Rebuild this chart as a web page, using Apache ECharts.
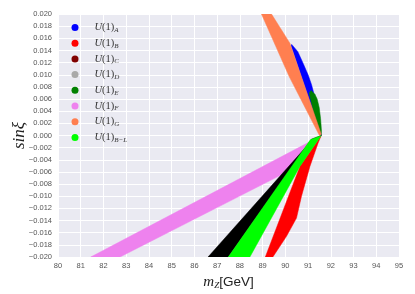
<!DOCTYPE html>
<html>
<head>
<meta charset="utf-8">
<script src="https://cdn.jsdelivr.net/npm/echarts@6/dist/echarts.min.js"></script>
<style>
html,body{margin:0;padding:0;background:#fff;}
#c{width:415px;height:294px;}
</style>
</head>
<body>
<div id="c"></div>
<script>
// ---- data (mZ [GeV], sin xi) boundary vertices of each filled region ----
const xMin = 80, xMax = 95, xStep = 1;
const yMin = -0.020, yMax = 0.020, yStep = 0.002;

const seriesNames = ['A', 'B', 'C', 'D', 'E', 'F', 'G', 'B−L'];

const bandA = [[90.28,0.0150],[90.55,0.0138],[90.78,0.0119],[91.00,0.0100],[91.15,0.0084],[91.25,0.0070],[91.34,0.0050],[91.45,0.0025],[91.58,0.0000],[90.25,0.0148]];
const bandB = [[89.12,-0.0200],[90.64,-0.0051],[91.58,0.0000],[91.44,-0.00125],[91.08,-0.0051],[90.71,-0.0100],[90.49,-0.0136],[90.05,-0.0166],[89.45,-0.0200]];
const bandC = [[86.60,-0.0200],[91.00,-0.0015],[91.58,0.0000],[91.15,-0.0006],[87.49,-0.0200]];
const bandD = [];
const bandE = [[91.13,0.0074],[91.30,0.0068],[91.40,0.0060],[91.49,0.0046],[91.55,0.0028],[91.59,0.0008],[91.58,0.0000],[91.26,0.0035],[91.05,0.0070]];
const bandF = [[81.44,-0.0200],[91.55,-0.0001],[91.20,-0.0018],[90.64,-0.0050],[89.76,-0.0066],[82.73,-0.0200]];
const bandG = [[88.95,0.0200],[89.39,0.0200],[90.20,0.0152],[91.58,0.0002],[91.50,0.0000],[90.17,0.0097]];
const bandBL = [[87.49,-0.0200],[91.10,-0.0007],[91.58,0.0000],[90.64,-0.0051],[88.44,-0.0200]];

const legendColors = {A:'#0000ff', B:'#ff0000', C:'#800000', D:'#a9a9a9', E:'#008000', F:'#ee82ee', G:'#ff7f50', 'B−L':'#00ff00'};
const fillColors   = {A:'#0000ff', B:'#ff0000', C:'#000000', D:'#a9a9a9', E:'#008000', F:'#ee82ee', G:'#ff7f50', 'B−L':'#00ff00'};
const bands = {A:bandA, B:bandB, C:bandC, D:bandD, E:bandE, F:bandF, G:bandG, 'B−L':bandBL};

// drawing order (bottom to top)
const drawOrder = ['D', 'F', 'C', 'B', 'B−L', 'A', 'E', 'G'];

const serif = '"Liberation Serif", "DejaVu Serif", serif';
const sans = '"Liberation Sans", Arial, sans-serif';

function bandSeries(key) {
  const pts = bands[key];
  return {
    type: 'custom',
    name: key,
    data: pts,
    encode: {x: 0, y: 1},
    clip: true,
    itemStyle: {color: legendColors[key]},
    renderItem: function (params, api) {
      if (params.dataIndex !== 0 || pts.length < 3) return null;
      const points = pts.map(p => api.coord(p));
      return {type: 'polygon', shape: {points: points}, style: {fill: fillColors[key], stroke: fillColors[key], lineWidth: 0.5}};
    }
  };
}

const chart = echarts.init(document.getElementById('c'), null, {renderer: 'canvas'});
chart.setOption({
  animation: false,
  backgroundColor: '#ffffff',
  grid: {left: 58, right: 16, top: 14, bottom: 37, show: true, backgroundColor: '#eaeaf2', borderWidth: 0,
         containLabel: false, outerBoundsMode: 'none'},
  legend: {
    orient: 'vertical',
    left: 66.5,
    top: 16.5,
    padding: 5,
    itemWidth: 7,
    itemHeight: 7,
    itemGap: 3.7,
    icon: 'circle',
    data: seriesNames,
    formatter: function (name) {
      return '{p|}{u|U}{n|(1)}{s|' + name + '}';
    },
    textStyle: {
      color: '#333',
      rich: {
        p: {width: 11, lineHeight: 12},
        u: {fontFamily: serif, fontStyle: 'italic', fontSize: 10.5, lineHeight: 12, color: '#333'},
        n: {fontFamily: serif, fontSize: 10.5, lineHeight: 12, color: '#333'},
        s: {fontFamily: serif, fontStyle: 'italic', fontSize: 7, lineHeight: 7, verticalAlign: 'bottom', color: '#333'}
      }
    }
  },
  xAxis: {
    type: 'value', min: xMin, max: xMax, interval: xStep,
    axisLine: {show: false}, axisTick: {show: false},
    splitLine: {show: true, lineStyle: {color: '#ffffff', width: 1}},
    axisLabel: {color: '#555', fontSize: 7.5, fontFamily: sans, margin: 5},
    name: '{m|m}{z|Z}{g|[GeV]}',
    nameLocation: 'middle',
    nameGap: 17,
    nameMoveOverlap: false,
    nameTextStyle: {
      rich: {
        m: {fontFamily: serif, fontStyle: 'italic', fontSize: 15, color: '#222', lineHeight: 16},
        z: {fontFamily: serif, fontStyle: 'italic', fontSize: 9, color: '#222', lineHeight: 9, verticalAlign: 'bottom'},
        g: {fontFamily: sans, fontSize: 13.5, color: '#222', lineHeight: 16}
      }
    }
  },
  yAxis: {
    type: 'value', min: yMin, max: yMax, interval: yStep,
    axisLine: {show: false}, axisTick: {show: false},
    splitLine: {show: true, lineStyle: {color: '#ffffff', width: 1}},
    axisLabel: {
      color: '#555', fontSize: 7.5, fontFamily: sans, margin: 6,
      formatter: function (v) {
        const r = Math.round(v * 1000) / 1000;
        return (r < 0 ? '\u2212' : '') + Math.abs(r).toFixed(3);
      }
    },
    name: 'sinξ',
    nameLocation: 'middle',
    nameRotate: 90,
    nameGap: 30,
    nameMoveOverlap: false,
    nameTextStyle: {fontFamily: serif, fontStyle: 'italic', fontSize: 17, color: '#222'}
  },
  series: drawOrder.map(bandSeries)
});
</script>
</body>
</html>
